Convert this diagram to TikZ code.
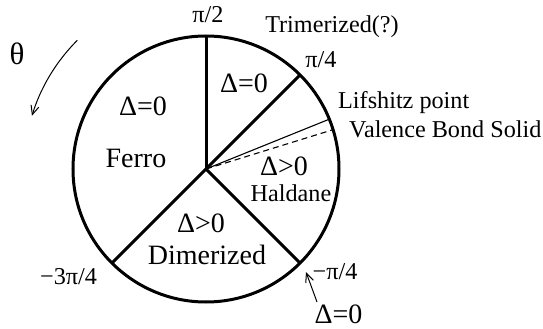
\documentclass[tikz,border=0pt]{standalone}
\usepackage{fontspec}
\setmainfont{Liberation Serif}
\usetikzlibrary{arrows.meta}
\begin{document}
\begin{tikzpicture}[x=1pt,y=1pt,
  thickline/.style={line width=3pt},
  thinline/.style={line width=1.1pt},
  small/.style={font=\fontsize{24.2}{27}\selectfont, inner sep=0pt},
  big/.style={font=\fontsize{28}{30}\selectfont, inner sep=0pt},
  openarrow/.style={line width=1pt,-{Straight Barb[length=9pt,width=8pt,line width=1pt]}}]
\useasboundingbox (-206,-160) rectangle (337,169);
\coordinate (c) at (0,0);
\draw[thickline] (c) circle[radius=133];
\coordinate (p90) at (90:133);
\coordinate (p45) at (45:133);
\coordinate (m45) at (-45:133);
\coordinate (m135) at (-135:133);
\coordinate (lif) at (22:133);
\coordinate (vbs) at (17.2:133);
\draw[thickline] (c) -- (p90);
\draw[thickline] (c) -- (p45);
\draw[thickline] (c) -- (m45);
\draw[thickline] (c) -- (m135);
\draw[thinline] (c) -- (lif);
\draw[thinline, dash pattern=on 6pt off 4pt] (c) -- (vbs);
% theta arrow
\coordinate (ts) at (135:182);
\draw[openarrow] (ts) arc[start angle=135, end angle=163, radius=182];
\node[font=\fontsize{31}{34}\selectfont, inner sep=0pt] (theta) at (-189,115) {θ};
% labels
\node[small] (lpi2) at (2,154) {π/2};
\node[small] (ltri) at (126,142) {Trimerized(?)};
\node[small] (lpi4) at (115,109) {π/4};
\node[small, anchor=base west] (llif) at (132,60) {Lifshitz point};
\node[small, anchor=base west] (lvbs) at (143,31) {Valence Bond Solid};
\node[big] (dtop) at (38,86) {Δ=0};
\node[big] (dleft) at (-63,63) {Δ=0};
\node[big] (ferro) at (-70,11) {Ferro};
\node[big] (ddim) at (-5,-54) {Δ>0};
\node[big] (dim) at (1,-86) {Dimerized};
\node[big] (dhal) at (78,2.5) {Δ>0};
\node[small] (hal) at (85,-24) {Haldane};
\node[small] (lm34) at (-137.5,-108) {−3π/4};
\node[small] (lm14) at (129,-103) {−π/4};
\node[big] (dbot) at (132.5,-145.5) {Δ=0};
\coordinate (arrtail) at (111,-133);
\coordinate (arrtip) at (100,-103);
\draw[openarrow] (arrtail) -- (arrtip);
\end{tikzpicture}
\end{document}
